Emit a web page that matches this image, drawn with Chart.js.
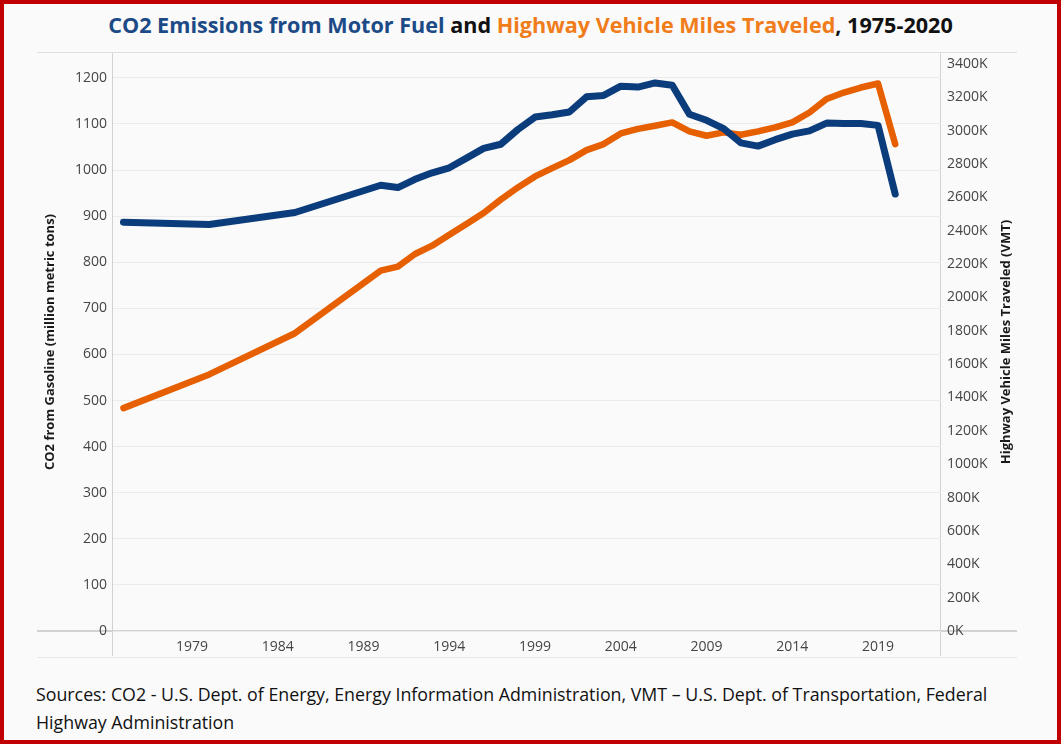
<!DOCTYPE html>
<html>
<head>
<meta charset="utf-8">
<title>CO2 Emissions and Highway VMT</title>
<script src="https://cdn.jsdelivr.net/npm/chart.js@4.4.1/dist/chart.umd.min.js"></script>
<style>
  html, body { margin: 0; padding: 0; }
  body { width: 1061px; height: 744px; overflow: hidden; background: #fafafa; font-family: 'Open Sans', sans-serif; }
  #page { position: relative; width: 1061px; height: 744px; background: #fafafa; }
  #redBorder { position: absolute; left: 0; top: 0; width: 1061px; height: 744px; box-sizing: border-box; border: 4px solid #c00000; pointer-events: none; z-index: 5; }
  #title { position: absolute; left: 0; top: 9px; width: 1061px; text-align: center; font-size: 21.6px; font-weight: 700; line-height: 32px; color: #111; }
  #title .blue { color: #1b4a86; }
  #title .orange { color: #f07c1a; }
  .line { position: absolute; }
  #chartBox { position: absolute; left: 37px; top: 53px; width: 980px; height: 605px; }
  #footer { position: absolute; left: 36px; top: 680px; font-size: 17.8px; line-height: 28px; color: #111; white-space: nowrap; }
</style>
</head>
<body>
<div id="page">
  <div id="title"><span class="blue">CO2 Emissions from Motor Fuel</span> and <span class="orange">Highway Vehicle Miles Traveled</span>, 1975-2020</div>

  <!-- pane frame lines -->
  <div class="line" style="left:37px; top:52px; width:980px; height:1px; background:#dedede;"></div>
  <div class="line" style="left:37px; top:630px; width:980px; height:2px; background:#d2d2d2;"></div>
  <div class="line" style="left:37px; top:657px; width:980px; height:1px; background:#e8e8e8;"></div>
  <div class="line" style="left:112px; top:53px; width:1px; height:603px; background:#d2d2d2;"></div>
  <div class="line" style="left:940px; top:53px; width:1px; height:603px; background:#d2d2d2;"></div>

  <div id="chartBox"><canvas id="emissionsChart" width="980" height="605"></canvas></div>

  <div id="footer">Sources: CO2 - U.S. Dept. of Energy, Energy Information Administration, VMT – U.S. Dept. of Transportation, Federal<br>Highway Administration</div>
  <div id="redBorder"></div>
</div>

<script>
// data
const years = [1975, 1980, 1985,
  1990, 1991, 1992, 1993, 1994, 1995, 1996, 1997, 1998, 1999,
  2000, 2001, 2002, 2003, 2004, 2005, 2006, 2007, 2008, 2009,
  2010, 2011, 2012, 2013, 2014, 2015, 2016, 2017, 2018, 2019, 2020];

// CO2 from gasoline, million metric tons
const co2Emissions = [887, 882, 908,
  967, 962, 980, 994, 1005, 1026, 1047, 1056, 1088, 1115,
  1120, 1126, 1159, 1162, 1182, 1180, 1189, 1184, 1121, 1108,
  1090, 1059, 1052, 1066, 1078, 1085, 1102, 1101, 1101, 1097, 948];

// highway vehicle miles traveled, in K (thousand million miles)
const vehicleMiles = [1336, 1538, 1785,
  2160, 2184, 2260, 2310, 2376, 2440, 2506, 2586, 2659, 2725,
  2775, 2823, 2883, 2919, 2983, 3010, 3029, 3049, 2995, 2969,
  2989, 2975, 2995, 3019, 3049, 3108, 3189, 3228, 3258, 3282, 2919];

const xTickYears = [1979, 1984, 1989, 1994, 1999, 2004, 2009, 2014, 2019];

const leftAxisTitle = 'CO2 from Gasoline (million metric tons)';
const rightAxisTitle = 'Highway Vehicle Miles Traveled (VMT)';

const tickFont = { family: "'Open Sans', sans-serif", size: 14 };
const tickColor = '#454545';

// fixed axis boxes so the plot area lines up with the pane frame
function fixBox(size) {
  return s => {
    if (s.isHorizontal()) s.height = size; else s.width = size;
    s.paddingTop = 0; s.paddingBottom = 0; s.paddingLeft = 0; s.paddingRight = 0;
  };
}

// Chart.js puts a right-hand title top-to-bottom; the reference reads bottom-to-top
const rightTitlePlugin = {
  id: 'rightTitle',
  afterDraw(chart) {
    const s = chart.scales.y1;
    const area = chart.chartArea;
    const ctx = chart.ctx;
    ctx.save();
    ctx.translate(s.right - 11, (area.top + area.bottom) / 2);
    ctx.rotate(-Math.PI / 2);
    ctx.font = "bold 13px 'Open Sans', sans-serif";
    ctx.fillStyle = '#1a1a1a';
    ctx.textAlign = 'center';
    ctx.textBaseline = 'middle';
    ctx.fillText(rightAxisTitle, 0, 0);
    ctx.restore();
  }
};

const ctx = document.getElementById('emissionsChart').getContext('2d');
new Chart(ctx, {
  type: 'line',
  data: {
    datasets: [
      {
        label: 'CO2 Emissions from Motor Fuel',
        data: years.map((yr, i) => ({ x: yr, y: co2Emissions[i] })),
        yAxisID: 'y',
        borderColor: '#0b3d7c',
        borderWidth: 7,
        borderJoinStyle: 'round',
        borderCapStyle: 'round',
        pointRadius: 0,
        tension: 0
      },
      {
        label: 'Highway Vehicle Miles Traveled',
        data: years.map((yr, i) => ({ x: yr, y: vehicleMiles[i] })),
        yAxisID: 'y1',
        borderColor: '#e65f00',
        borderWidth: 6.5,
        borderJoinStyle: 'round',
        borderCapStyle: 'round',
        pointRadius: 0,
        tension: 0
      }
    ]
  },
  options: {
    responsive: false,
    animation: false,
    devicePixelRatio: 1,
    layout: { padding: 0 },
    plugins: { legend: { display: false }, tooltip: { enabled: false } },
    scales: {
      x: {
        type: 'linear',
        min: 1974.39,
        max: 2022.67,
        grid: { display: false, drawTicks: false },
        border: { display: false },
        afterBuildTicks: s => { s.ticks = xTickYears.map(v => ({ value: v })); },
        afterFit: fixBox(27),
        ticks: { font: tickFont, color: tickColor, padding: 8, maxRotation: 0, autoSkip: false, callback: v => String(v) }
      },
      y: {
        position: 'left',
        min: 0,
        max: 1254,
        grid: { color: '#ebebeb', lineWidth: 1, drawTicks: false },
        border: { display: false },
        afterFit: fixBox(76),
        ticks: { stepSize: 100, includeBounds: false, font: tickFont, color: tickColor, padding: 6, callback: v => String(v) },
        title: {
          display: true,
          text: leftAxisTitle,
          color: '#1a1a1a',
          font: { family: "'Open Sans', sans-serif", size: 13, weight: 'bold' },
          padding: { top: 5, bottom: 0 }
        }
      },
      y1: {
        position: 'right',
        min: 0,
        max: 3465,
        grid: { display: false, drawTicks: false },
        border: { display: false },
        afterFit: fixBox(76),
        ticks: { stepSize: 200, includeBounds: false, font: tickFont, color: tickColor, padding: 6, callback: v => v + 'K' }
      }
    }
  },
  plugins: [rightTitlePlugin]
});
</script>
</body>
</html>
